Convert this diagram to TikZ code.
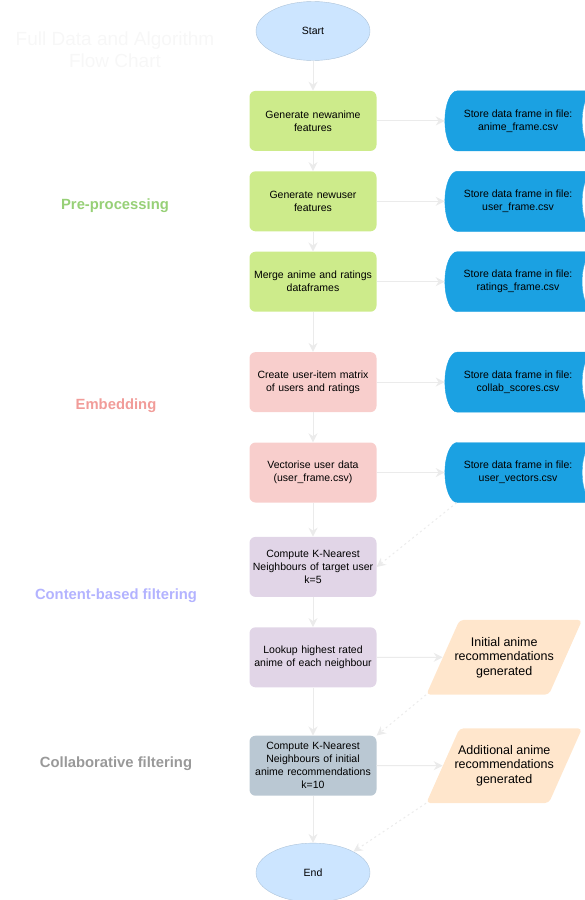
\documentclass[tikz,border=0pt]{standalone}
\usepackage{fontspec}
\setmainfont{Liberation Sans}
\usepackage{xcolor}
\usetikzlibrary{arrows.meta, positioning, shapes.geometric, calc}

\definecolor{termblue}{HTML}{CCE5FF}
\definecolor{prepgreen}{HTML}{CDEB8B}
\definecolor{embpink}{HTML}{F8CECC}
\definecolor{cbfpurple}{HTML}{E1D5E7}
\definecolor{cfslate}{HTML}{BAC8D3}
\definecolor{storeblue}{HTML}{1BA1E2}
\definecolor{recorange}{HTML}{FFE6CC}
\definecolor{lblgreen}{HTML}{97D077}
\definecolor{lblpink}{HTML}{F19C99}
\definecolor{lblpurple}{HTML}{B3B3FF}
\definecolor{lblgray}{HTML}{999999}
\definecolor{linegray}{HTML}{EBEBEB}

\begin{document}
\begin{tikzpicture}[
    x=1pt, y=-1pt,
    >={Stealth[length=9pt, width=9pt]},
    boxfont/.style  = {font=\fontsize{10.5}{13}\selectfont},
    terminal/.style = {ellipse, boxfont, fill=termblue, draw=termblue!85!black,
                       minimum width=114pt, minimum height=59pt},
    process/.style  = {rectangle, rounded corners=6pt, boxfont, align=center,
                       text width=125pt, inner sep=1pt, minimum height=60pt},
    prep/.style     = {process, fill=prepgreen},
    emb/.style      = {process, fill=embpink},
    cbf/.style      = {process, fill=cbfpurple},
    cf/.style       = {process, fill=cfslate},
    store/.style    = {cylinder, shape border rotate=0, aspect=1, boxfont,
                       align=center, draw=storeblue, cylinder uses custom fill,
                       cylinder body fill=storeblue, cylinder end fill=white,
                       minimum width=60pt, minimum height=162pt, inner sep=1pt},
    output/.style   = {trapezium, trapezium left angle=66, trapezium right angle=114,
                       rounded corners=4pt, fill=recorange, align=center,
                       font=\fontsize{12.5}{14.5}\selectfont,
                       inner xsep=-5pt, inner ysep=17pt},
    phase/.style    = {font=\bfseries\fontsize{14.8}{17}\selectfont},
    flow/.style     = {->, draw=linegray, line width=1pt},
    flowd/.style    = {flow, dash pattern=on 2pt off 3pt}
  ]
  \useasboundingbox (0,0) rectangle (585,900);
  \clip (0,0) rectangle (585,900);

  % ── Title and phase labels (left) ───────────────────────────
  \node[font=\fontsize{19}{22}\selectfont, text=black!3, align=center]
        (title) at (115,50) {Full Data and Algorithm\\Flow Chart};
  \node[phase, text=lblgreen]  (lpre) at (115,206) {Pre-processing};
  \node[phase, text=lblpink]   (lemb) at (116,406) {Embedding};
  \node[phase, text=lblpurple] (lcbf) at (116,596) {Content-based filtering};
  \node[phase, text=lblgray]   (lcf)  at (116,764) {Collaborative filtering};

  % ── Main column (x≈313) ─────────────────────────────────────
  \node[terminal] (start) at (313,31)          {Start};
  \node[prep] (ganime) [below=30pt of start]   {Generate newanime\\features};
  \node[prep] (guser)  [below=20pt of ganime]  {Generate newuser\\features};
  \node[prep] (merge)  [below=20pt of guser]   {Merge anime and ratings\\dataframes};
  \node[emb]  (matrix) [below=40pt of merge]   {Create user-item matrix\\of users and ratings};
  \node[emb]  (vect)   [below=30pt of matrix]  {Vectorise user data\\(user\_frame.csv)};
  \node[cbf]  (knnu)   [below=34pt of vect]    {Compute K-Nearest\\Neighbours of target user\\k=5};
  \node[cbf]  (lookup) [below=30pt of knnu]    {Lookup highest rated\\anime of each neighbour};
  \node[cf]   (knna)   [below=48pt of lookup]  {Compute K-Nearest\\Neighbours of initial\\anime recommendations\\k=10};
  \node[terminal] (end) [below=47pt of knna]   {End};

  % ── Right column: stored frames and outputs ─────────────────
  \node[store] (fanime)  [right=68pt of ganime] {Store data frame in file:\\anime\_frame.csv};
  \node[store] (fuser)   [right=68pt of guser]  {Store data frame in file:\\user\_frame.csv};
  \node[store] (fratings)[right=68pt of merge]  {Store data frame in file:\\ratings\_frame.csv};
  \node[store] (fcollab) [right=68pt of matrix] {Store data frame in file:\\collab\_scores.csv};
  \node[store] (fvect)   [right=68pt of vect]   {Store data frame in file:\\user\_vectors.csv};
  \node[output] (init)   [right=66pt of lookup] {Initial anime\\recommendations\\generated};
  \node[output] (addl)   [right=66pt of knna]   {Additional anime\\recommendations\\generated};

  % ── Connectors ──────────────────────────────────────────────
  \draw[flow] (start)  -- (ganime);
  \draw[flow] (ganime) -- (guser);
  \draw[flow] (guser)  -- (merge);
  \draw[flow] (merge)  -- (matrix);
  \draw[flow] (matrix) -- (vect);
  \draw[flow] (vect)   -- (knnu);
  \draw[flow] (knnu)   -- (lookup);
  \draw[flow] (lookup) -- (knna);
  \draw[flow] (knna)   -- (end);

  \draw[flow] (ganime) -- (fanime);
  \draw[flow] (guser)  -- (fuser);
  \draw[flow] (merge)  -- (fratings);
  \draw[flow] (matrix) -- (fcollab);
  \draw[flow] (vect)   -- (fvect);
  \draw[flow] (lookup) -- (init);
  \draw[flow] (knna)   -- (addl);

  % dashed feedback into the next step
  \draw[flowd] ($(fvect.west |- fvect.south)+(12,0)$) -- (knnu.east);
  \draw[flowd] (init.bottom left corner) -- (knna.north east);
  \draw[flowd] (addl.bottom left corner) -- (end.north east);

\end{tikzpicture}
\end{document}
